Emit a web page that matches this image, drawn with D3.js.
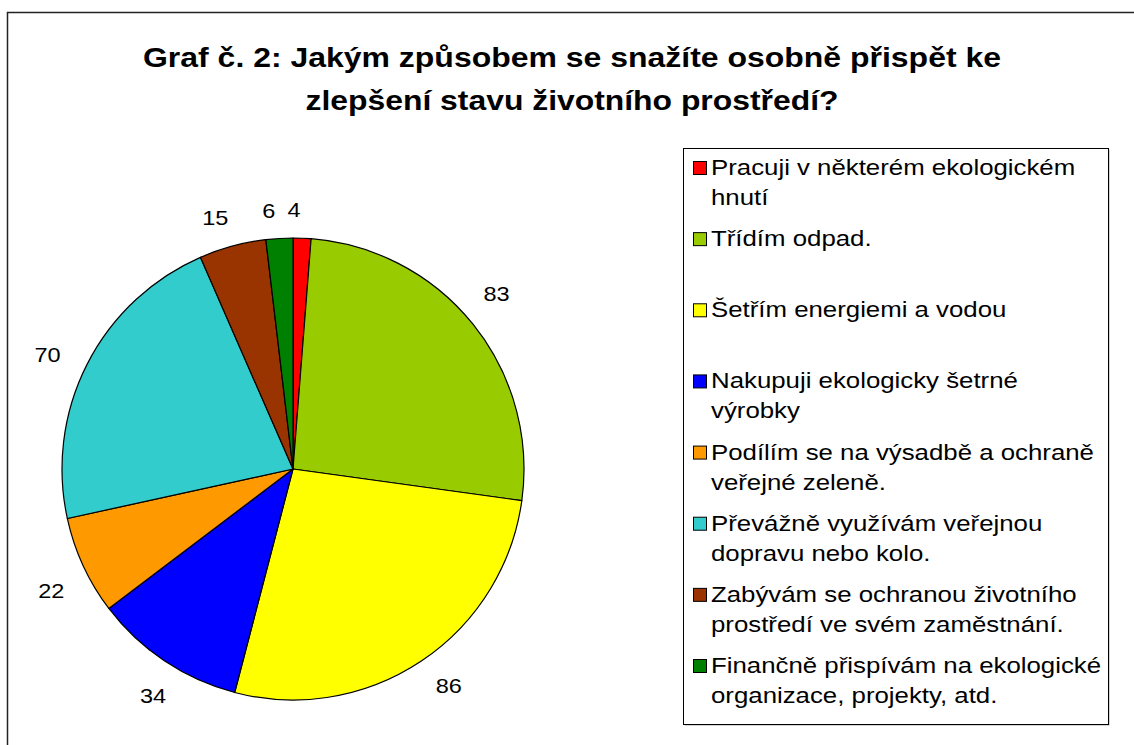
<!DOCTYPE html>
<html><head><meta charset="utf-8">
<script src="https://cdn.jsdelivr.net/npm/d3@7"></script>
<style>body{margin:0;background:#fff;}svg{display:block;font-family:"Liberation Sans",Arial,sans-serif;}</style>
</head><body>
<svg id="chart" width="1134" height="745"></svg>
<script>
const titleLines = ["Graf č. 2: Jakým způsobem se snažíte osobně přispět ke", "zlepšení stavu životního prostředí?"];
const categories = [
  ["Pracuji v některém ekologickém", "hnutí"],
  ["Třídím odpad."],
  ["Šetřím energiemi a vodou"],
  ["Nakupuji ekologicky šetrné", "výrobky"],
  ["Podílím se na výsadbě a ochraně", "veřejné zeleně."],
  ["Převážně využívám veřejnou", "dopravu nebo kolo."],
  ["Zabývám se ochranou životního", "prostředí ve svém zaměstnání."],
  ["Finančně přispívám na ekologické", "organizace, projekty, atd."]
];
const values = [4, 83, 86, 34, 22, 70, 15, 6];
const colors = ["#FF0000", "#99CC00", "#FFFF00", "#0000FF", "#FF9900", "#33CCCC", "#993300", "#008000"];

const svg = d3.select("#chart");
// outer frame (only top/left visible)
svg.append("rect").attr("x", 7.5).attr("y", 12.5).attr("width", 1300).attr("height", 900)
  .attr("fill", "#fff").attr("stroke", "#222").attr("stroke-width", 1.5);

// title
const title = svg.append("g");
const titleWidths = [858, 533];
titleLines.forEach((t, i) => {
  title.append("text").attr("x", 572).attr("y", 67 + i * 43)
    .attr("text-anchor", "middle").attr("font-weight", "bold").attr("font-size", 27)
    .attr("textLength", titleWidths[i]).attr("lengthAdjust", "spacingAndGlyphs")
    .text(t);
});

// pie
const cx = 293, cy = 469, r = 231;
const data = values.map((v, i) => ({ v, i }));
const pie = d3.pie().value(d => d.v).sort(null);
const arcs = pie(data);
const arc = d3.arc().innerRadius(0).outerRadius(r);
const g = svg.append("g").attr("transform", `translate(${cx},${cy})`);
g.selectAll("path").data(arcs).join("path")
  .attr("d", arc).attr("fill", d => colors[d.data.i])
  .attr("stroke", "#000").attr("stroke-width", 1.2).attr("stroke-linejoin", "round");

const hx = 1.12; // horizontal stretch of the reference text
const lbl = g.selectAll("text.lbl").data(arcs).join("text").attr("class", "lbl")
  .attr("text-anchor", "middle").attr("dominant-baseline", "central")
  .attr("font-size", 21).text(d => d.data.v);
lbl.each(function(d) {
  const el = d3.select(this);
  const w = this.getComputedTextLength() * hx;
  const a = (d.startAngle + d.endAngle) / 2 - 2 * Math.PI / 180;
  const dist = r + 28 + Math.abs(Math.sin(a)) * w / 2;
  const x = Math.sin(a) * dist, y = -Math.cos(a) * dist;
  el.attr("x", x).attr("y", y).attr("textLength", w).attr("lengthAdjust", "spacingAndGlyphs");
});

// legend
const lx = 683, ly = 148, lw = 425, lh = 576;
svg.append("rect").attr("x", lx + 1.5).attr("y", ly + 1.5).attr("width", lw).attr("height", lh).attr("fill", "#aaa");
svg.append("rect").attr("x", lx + 0.5).attr("y", ly + 0.5).attr("width", lw).attr("height", lh)
  .attr("fill", "#fff").attr("stroke", "#000").attr("stroke-width", 1);
const step = (666 - 168) / (categories.length - 1);
const leg = svg.append("g");
const lhx = 1.2;
categories.forEach((lines, i) => {
  const y0 = 168 + i * step;
  leg.append("rect").attr("x", 693.5).attr("y", y0 - 6.5).attr("width", 13).attr("height", 13)
    .attr("fill", colors[i]).attr("stroke", "#000").attr("stroke-width", 1);
  lines.forEach((t, j) => {
    const tx = leg.append("text").attr("x", 711).attr("y", y0 + j * 30).attr("dominant-baseline", "central")
      .attr("font-size", 21.5).text(t);
    const w = tx.node().getComputedTextLength();
    tx.attr("textLength", w * lhx).attr("lengthAdjust", "spacingAndGlyphs");
  });
});
</script>
</body></html>
